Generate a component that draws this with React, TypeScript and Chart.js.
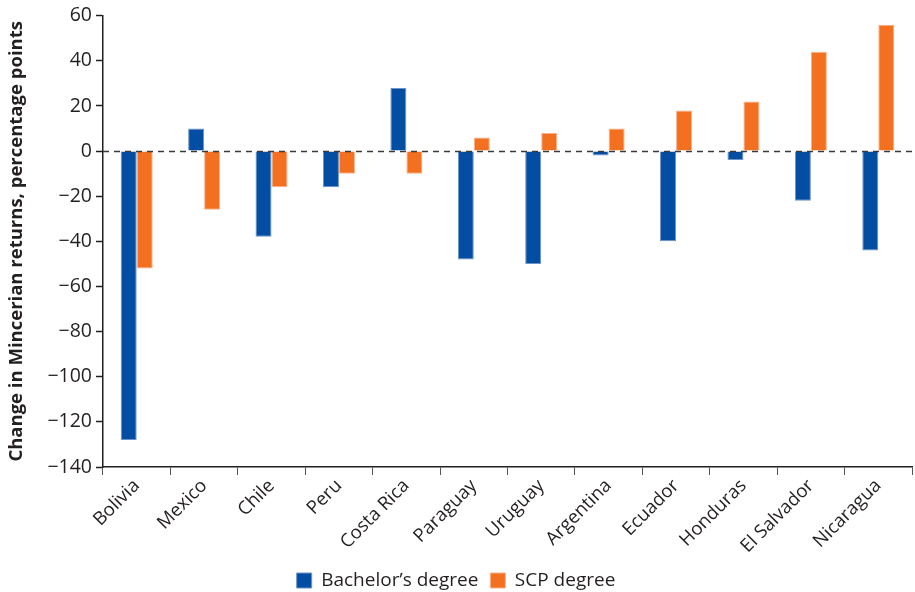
import React, { useEffect, useRef } from "react";
import { Chart, registerables } from "chart.js";

Chart.register(...registerables);

const categories = ["Bolivia", "Mexico", "Chile", "Peru", "Costa Rica", "Paraguay", "Uruguay", "Argentina", "Ecuador", "Honduras", "El Salvador", "Nicaragua"];
const bachelorValues = [-128, 10, -38, -16, 28, -48, -50, -2, -40, -4, -22, -44];
const scpValues = [-52, -26, -16, -10, -10, 6, 8, 10, 18, 22, 44, 56];
const yMin = -140;
const yMax = 60;
const yStep = 20;

const FONT = "'Open Sans', 'Noto Sans', sans-serif";
const TEXT = "#231f20";

const zeroLine = {
  id: "zeroLine",
  afterDatasetsDraw(chart: any) {
    const y = chart.scales.y;
    const x = chart.scales.x;
    const py = Math.round(y.getPixelForValue(0)) + 0.5;
    const ctx = chart.ctx;
    ctx.save();
    ctx.strokeStyle = "#3a3a3a";
    ctx.lineWidth = 1.5;
    ctx.setLineDash([6, 5]);
    ctx.beginPath();
    ctx.moveTo(x.left, py);
    ctx.lineTo(x.right, py);
    ctx.stroke();
    ctx.restore();
  },
};

export default function App() {
  const ref = useRef<HTMLCanvasElement>(null);
  useEffect(() => {
    if (!ref.current) return;
    const chart = new Chart(ref.current, {
      type: "bar",
      data: {
        labels: categories,
        datasets: [
          {
            label: "Bachelor\u2019s degree",
            data: bachelorValues,
            backgroundColor: "#034ea2",
            borderColor: "#6f93c6",
            borderWidth: 1,
            borderSkipped: "start",
            categoryPercentage: 0.475,
            barPercentage: 1,
          },
          {
            label: "SCP degree",
            data: scpValues,
            backgroundColor: "#f37021",
            borderColor: "#f8b08a",
            borderWidth: 1,
            borderSkipped: "start",
            categoryPercentage: 0.475,
            barPercentage: 1,
          },
        ],
      },
      options: {
        animation: false,
        responsive: true,
        maintainAspectRatio: false,
        layout: { padding: { top: 14, right: 3, left: 0, bottom: -8 } },
        plugins: {
          tooltip: { enabled: false },
          legend: {
            position: "bottom",
            labels: {
              font: { family: FONT, size: 19 },
              color: TEXT,
              boxWidth: 15,
              boxHeight: 15,
              padding: 12,
              useBorderRadius: false,
            },
          },
        },
        scales: {
          x: {
            grid: {
              display: true,
              drawOnChartArea: false,
              drawTicks: true,
              tickLength: 8,
              tickColor: "#555",
              tickWidth: 1,
              offset: true,
            },
            border: { display: true, color: TEXT, width: 1.5 },
            ticks: {
              color: TEXT,
              font: { family: FONT, size: 18.5 },
              maxRotation: 45,
              minRotation: 45,
              padding: 0,
            },
            afterFit(scale: any) {
              scale.height = 92;
            },
          },
          y: {
            min: yMin,
            max: yMax,
            grid: {
              display: true,
              drawOnChartArea: false,
              drawTicks: true,
              tickLength: 7,
              tickColor: TEXT,
              tickWidth: 1.5,
            },
            border: { display: true, color: TEXT, width: 1.5 },
            ticks: {
              stepSize: yStep,
              color: TEXT,
              font: { family: FONT, size: 19.5 },
              padding: 4,
              callback: (v: any) => (Number(v) < 0 ? "\u2212" + Math.abs(Number(v)) : String(v)),
            },
            title: {
              display: true,
              text: "Change in Mincerian returns, percentage points",
              color: TEXT,
              font: { family: FONT, size: 18.5, weight: "bold" },
              padding: { top: 6, bottom: 2 },
            },
            afterFit(scale: any) {
              scale.width = 103;
            },
          },
        },
      },
      plugins: [zeroLine],
    } as any);
    return () => chart.destroy();
  }, []);
  return (
    <div style={{ position: "fixed", left: 0, top: 0, width: 915, height: 592, background: "#fff" }}>
      <canvas ref={ref} />
    </div>
  );
}
